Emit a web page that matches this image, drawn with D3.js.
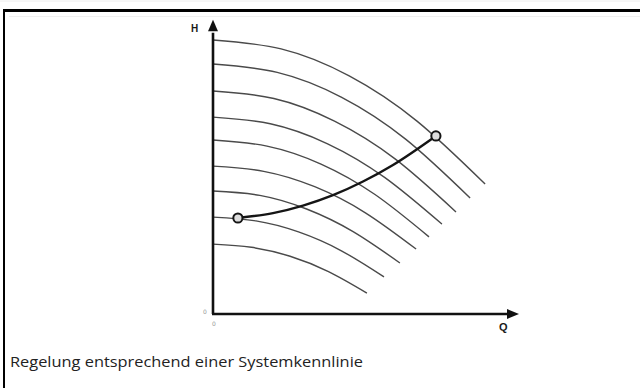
<!DOCTYPE html>
<html><head><meta charset="utf-8">
<script src="https://cdn.jsdelivr.net/npm/d3@7"></script>
<style>html,body{margin:0;padding:0;background:#fff;}svg{display:block;}</style>
</head><body>
<svg id="c" width="640" height="388"></svg>
<script>
// Pump characteristic curves at different speeds (Q, H in relative units 0..100)
const speedCurveQ = [
  [0, 22.7, 45.4, 68.0, 90.7],
  [0, 21.4, 42.9, 64.3, 85.7],
  [0, 20.3, 40.5, 60.8, 81.0],
  [0, 19.1, 38.2, 57.2, 76.3],
  [0, 18.0, 36.0, 54.0, 72.0],
  [0, 16.9, 33.9, 50.8, 67.7],
  [0, 15.6, 31.2, 46.7, 62.3],
  [0, 14.3, 28.5, 42.8, 57.0],
  [0, 12.8, 25.7, 38.5, 51.3]
];
const speedCurveH = [
  [94.5, 91.4, 82.1, 66.5, 44.8],
  [86.2, 83.3, 74.7, 60.2, 40.0],
  [76.9, 74.3, 66.5, 53.4, 35.2],
  [67.9, 65.6, 58.7, 47.1, 31.0],
  [60.0, 57.9, 51.7, 41.2, 26.6],
  [51.0, 49.2, 43.9, 34.9, 22.4],
  [42.4, 40.9, 36.2, 28.4, 17.6],
  [33.4, 32.1, 28.3, 21.8, 12.8],
  [24.1, 23.0, 19.9, 14.6, 7.2]
];
// System characteristic (control curve)
const systemQ = [8.3, 20, 30, 40, 50, 60, 74.3];
const systemH = [33.1, 34.8, 37.4, 41.0, 45.7, 51.4, 61.4];
const axisLabels = ["H", "Q"];
const originLabel = "0";
const caption = "Regelung entsprechend einer Systemkennlinie";

const svg = d3.select("#c");
const x = d3.scaleLinear().domain([0, 100]).range([213, 513]);
const y = d3.scaleLinear().domain([0, 100]).range([314, 24]);

// frame
svg.append("line").attr("x1", 0).attr("x2", 640).attr("y1", 1).attr("y2", 1).attr("stroke", "#eee").attr("stroke-width", 1);
svg.append("line").attr("x1", 3).attr("x2", 640).attr("y1", 10.5).attr("y2", 10.5).attr("stroke", "#000").attr("stroke-width", 3);
svg.append("line").attr("x1", 4).attr("x2", 4).attr("y1", 9).attr("y2", 388).attr("stroke", "#000").attr("stroke-width", 2);
svg.append("line").attr("x1", 9).attr("x2", 640).attr("y1", 16.5).attr("y2", 16.5).attr("stroke", "#f0f0f0").attr("stroke-width", 1);

const line = d3.line().x(d => x(d[0])).y(d => y(d[1])).curve(d3.curveNatural);
const sysLine = d3.line().x(d => x(d[0])).y(d => y(d[1])).curve(d3.curveMonotoneX);

// pump curves
speedCurveQ.forEach((qs, i) => {
  const pts = qs.map((q, j) => [q, speedCurveH[i][j]]);
  svg.append("path").attr("d", line(pts)).attr("fill", "none")
    .attr("stroke", "#4a4a4a").attr("stroke-width", 1.4);
});

// axes
const axisColor = "#111";
svg.append("line").attr("x1", x(0)).attr("x2", x(0)).attr("y1", y(0)).attr("y2", y(97))
  .attr("stroke", axisColor).attr("stroke-width", 2.6);
svg.append("line").attr("x1", x(0) - 1).attr("x2", x(98)).attr("y1", y(0)).attr("y2", y(0))
  .attr("stroke", axisColor).attr("stroke-width", 2.6);
// arrowheads
svg.append("path").attr("d", `M${x(0)},${y(101.5)} L${x(0) - 5},${y(97.5)} L${x(0) + 5},${y(97.5)} Z`).attr("fill", axisColor);
svg.append("path").attr("d", `M${x(102)},${y(0)} L${x(98)},${y(0) - 5} L${x(98)},${y(0) + 5} Z`).attr("fill", axisColor);

svg.append("text").attr("x", x(0) - 22).attr("y", y(97.2)).text(axisLabels[0])
  .attr("font-family", "Liberation Sans").attr("font-weight", "bold").attr("font-size", 10).attr("fill", "#1a1a1a");
svg.append("text").attr("x", x(95.3)).attr("y", y(0) + 17).text(axisLabels[1])
  .attr("font-family", "Liberation Sans").attr("font-weight", "bold").attr("font-size", 11).attr("fill", "#1a1a1a");
svg.append("text").attr("x", x(0) - 10).attr("y", y(0)).text(originLabel)
  .attr("font-family", "DejaVu Sans").attr("font-size", 6).attr("fill", "#999");
svg.append("text").attr("x", x(0) - 1).attr("y", y(0) + 12).text(originLabel)
  .attr("font-family", "DejaVu Sans").attr("font-size", 6).attr("fill", "#999");

// system curve
const sysPts = systemQ.map((q, i) => [q, systemH[i]]);
svg.append("path").attr("d", sysLine(sysPts)).attr("fill", "none")
  .attr("stroke", "#151515").attr("stroke-width", 2.4);
[sysPts[0], sysPts[sysPts.length - 1]].forEach(p => {
  svg.append("circle").attr("cx", x(p[0])).attr("cy", y(p[1])).attr("r", 4.6)
    .attr("fill", "#ddd").attr("stroke", "#151515").attr("stroke-width", 2);
});

// caption
svg.append("text").attr("x", 10).attr("y", 367).text(caption)
  .attr("font-family", "Open Sans").attr("font-size", 14).attr("fill", "#222")
  .attr("textLength", 353).attr("lengthAdjust", "spacingAndGlyphs");
</script>
</body></html>
